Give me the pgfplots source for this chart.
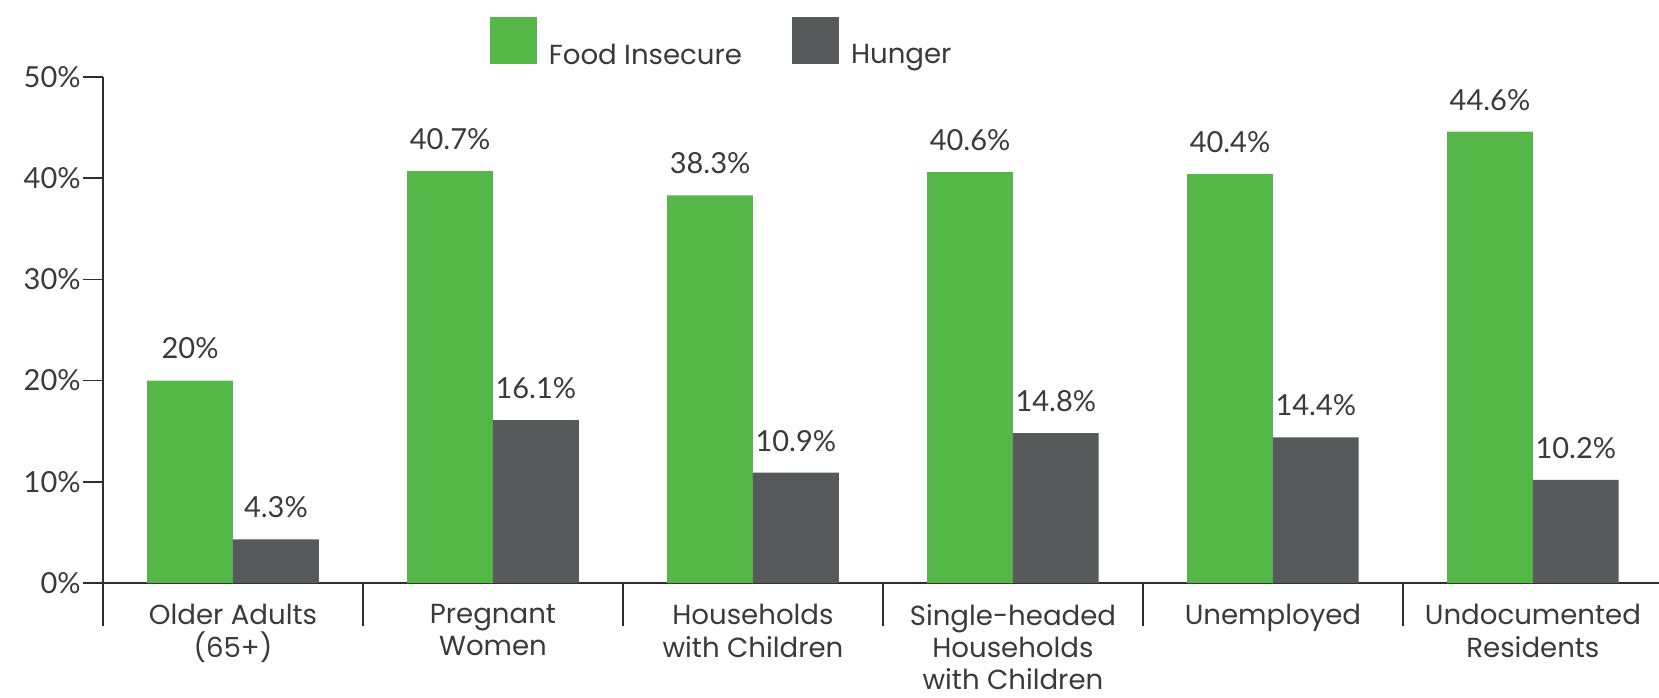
\documentclass[border=0pt]{standalone}
\usepackage{fontspec}
\setmainfont{Lato}
\newfontfamily\labfont{Poppins}
\usepackage{pgfplots}
\pgfplotsset{compat=1.18}
\definecolor{fgreen}{HTML}{55B748}
\definecolor{hgray}{HTML}{58595B}
\definecolor{txt}{HTML}{3A3A3A}
\definecolor{axln}{HTML}{2E2E2E}
\newcommand{\chartfont}{\fontsize{14.5}{18}\selectfont}
\newcommand{\labelfont}{\labfont\fontsize{13.8}{16.1}\selectfont}
\pgfplotsset{sqlegend/.style={legend image code/.code={\fill[##1] (0pt,-4.1pt) rectangle (23.5pt,19.4pt);}}}
\begin{document}
\begin{tikzpicture}
\begin{axis}[
  scale only axis, width=778pt, height=253pt,
  ybar=0pt, bar width=0.33,
  xmin=-0.5, xmax=5.485, ymin=0, ymax=50,
  axis x line*=bottom, axis y line*=left,
  axis line style={axln, line width=0.8pt},
  xtick={0,...,5},
  xticklabels={{Older Adults\\(65+)}, {Pregnant\\Women}, {Households\\with Children}, {Single-headed\\Households\\with Children}, {Unemployed}, {Undocumented\\Residents}},
  xticklabel style={align=center, anchor=north, inner sep=0pt, yshift=-0.5pt, font=\labelfont, text=txt},
  xtick style={draw=none},
  ytick={0,10,...,50},
  yticklabel={\pgfmathprintnumber{\tick}\%},
  yticklabel style={font=\chartfont, text=txt, inner sep=1pt},
  ytick style={axln, line width=0.8pt},
  major tick length=10pt, tick align=outside,
  /pgf/number format/assume math mode=true,
  nodes near coords={\pgfmathprintnumber{\pgfplotspointmeta}\%},
  every node near coord/.append style={font=\chartfont, text=txt, anchor=south, inner sep=0pt, yshift=10.5pt},
  legend columns=2,
  legend style={draw=none, fill=none, at={(0.2487,1.1186)}, anchor=north west, inner sep=0pt, outer sep=0pt, font=\labelfont, text=txt, nodes={inner sep=0pt}, /tikz/every odd column/.append style={column sep=6pt}, /tikz/every even column/.append style={column sep=25pt}},
  every axis plot post/.append style={sqlegend},
  clip=false,
]
\addplot[fill=fgreen, draw=none] coordinates {(0,20) (1,40.7) (2,38.3) (3,40.6) (4,40.4) (5,44.6)};
\addlegendentry{Food Insecure}
\addplot[fill=hgray, draw=none] coordinates {(0,4.3) (1,16.1) (2,10.9) (3,14.8) (4,14.4) (5,10.2)};
\addlegendentry{Hunger}
\pgfplotsinvokeforeach{-0.5,0.5,1.5,2.5,3.5,4.5}{\draw[axln, line width=0.8pt] (axis cs:#1,0) -- ++(0pt,-21.5pt);}
\end{axis}
\pgfresetboundingbox
\useasboundingbox (-51.5pt,291.5pt) rectangle (778pt,-57pt);
\end{tikzpicture}
\end{document}
